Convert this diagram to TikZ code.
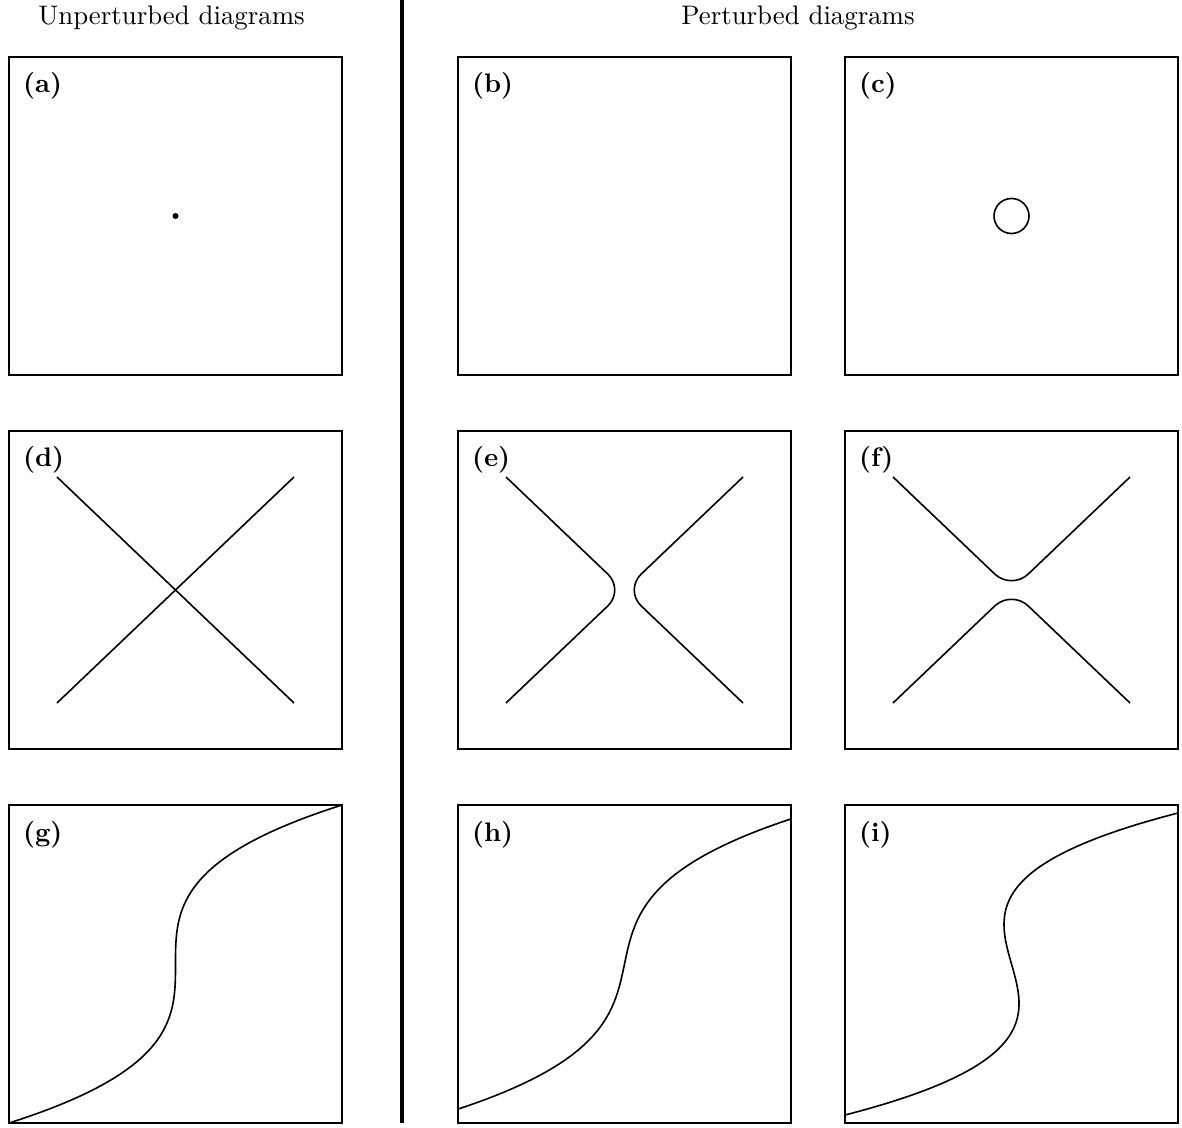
\documentclass[tikz,border=0pt]{standalone}
\begin{document}
\begin{tikzpicture}[x=0.373pt,y=-0.373pt,
  frame/.style={line width=0.5pt},
  curve/.style={line width=0.6pt},
  roundbranch/.style={line width=0.6pt,rounded corners=8.6pt},
  divider/.style={line width=1.5pt},
  paneltag/.style={anchor=base west,inner sep=0pt,font=\bfseries},
  heading/.style={anchor=base,inner sep=0pt}]
\useasboundingbox (0,0) rectangle (1182,1128);
% headings
\node[heading] (h1) at (171.5,25) {Unperturbed diagrams};
\node[heading] (h2) at (798,25) {Perturbed diagrams};
% divider
\coordinate (vtop) at (402,0);
\coordinate (vbot) at (402,1123);
\draw[divider] (vtop) -- (vbot);
% frames
\foreach \px/\lab in {9/a,458/b,845/c}{
  \draw[frame] (\px,57) rectangle ++(333,318);
  \node[paneltag] (t\lab) at (\px+13.5,93) {(\lab)};}
\foreach \px/\lab in {9/d,458/e,845/f}{
  \draw[frame] (\px,431) rectangle ++(333,318);
  \node[paneltag] (t\lab) at (\px+13.5,467) {(\lab)};}
\foreach \px/\lab in {9/g,458/h,845/i}{
  \draw[frame] (\px,805) rectangle ++(333,318);
  \node[paneltag] (t\lab) at (\px+13.5,841) {(\lab)};}
% (a) dot
\fill (175.5,216) circle[radius=3];
% (c) circle
\draw[curve] (1011.5,216) circle[radius=17.5];
% (d) crossing lines
\begin{scope}[shift={(175.5,590)}]
  \coordinate (d1) at (-118.5,-113);
  \coordinate (d2) at (118.5,113);
  \coordinate (d3) at (118.5,-113);
  \coordinate (d4) at (-118.5,113);
  \draw[curve] (d1) -- (d2);
  \draw[curve] (d3) -- (d4);
\end{scope}
% (e) horizontal gap
\begin{scope}[shift={(624.5,590)}]
  \coordinate (e0) at (0,0);
  \coordinate (e1) at (-118.5,-113);
  \coordinate (e2) at (-118.5,113);
  \coordinate (e3) at (118.5,-113);
  \coordinate (e4) at (118.5,113);
  \draw[roundbranch] (e1) -- (e0) -- (e2);
  \draw[roundbranch] (e3) -- (e0) -- (e4);
\end{scope}
% (f) vertical gap
\begin{scope}[shift={(1011.5,590)}]
  \coordinate (f0) at (0,0);
  \coordinate (f1) at (-118.5,-113);
  \coordinate (f2) at (118.5,-113);
  \coordinate (f3) at (-118.5,113);
  \coordinate (f4) at (118.5,113);
  \draw[roundbranch] (f1) -- (f0) -- (f2);
  \draw[roundbranch] (f3) -- (f0) -- (f4);
\end{scope}
% (g) cubic
\begin{scope}[shift={(175.5,964)}]
  \draw[curve] plot[smooth,domain=-1:1,samples=101,variable=\t]
    ({166.5*\t*\t*\t},{-159*\t});
\end{scope}
% (h) monotone
\begin{scope}[shift={(624.5,964)}]
  \draw[curve] plot[smooth,domain=-0.913:0.913,samples=101,variable=\t]
    ({166.5*(1.077*\t*\t*\t+0.199*\t)},{-159*\t});
\end{scope}
% (i) folded
\begin{scope}[shift={(1011.5,964)}]
  \draw[curve] plot[smooth,domain=-0.95:0.95,samples=101,variable=\t]
    ({166.5*(1.469*\t*\t*\t-0.272*\t)},{-159*\t});
\end{scope}
\end{tikzpicture}
\end{document}
